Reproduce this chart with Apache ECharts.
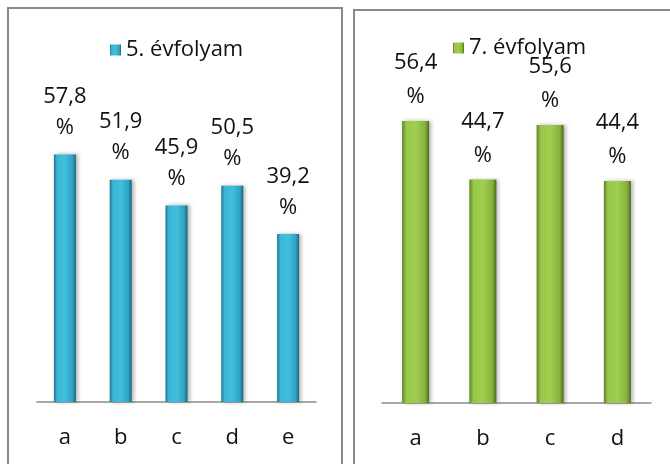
<!DOCTYPE html>
<html>
<head>
<meta charset="utf-8">
<script src="https://cdn.jsdelivr.net/npm/echarts@6/dist/echarts.min.js"></script>
<style>
  html, body { margin: 0; padding: 0; background: #fff; }
  #chart { width: 670px; height: 464px; }
</style>
</head>
<body>
<div id="chart"></div>
<script>
var cats5 = ['a', 'b', 'c', 'd', 'e'];
var vals5 = [57.8, 51.9, 45.9, 50.5, 39.2];
var cats7 = ['a', 'b', 'c', 'd'];
var vals7 = [56.4, 44.7, 55.6, 44.4];

var font = '"Open Sans", sans-serif';

function pct(p) {
    return String(p.value).replace('.', ',') + '\n%';
}

function barGrad(c) {
    return new echarts.graphic.LinearGradient(0, 0, 1, 0, [
        { offset: 0, color: c[0] },
        { offset: 0.15, color: c[1] },
        { offset: 0.5, color: c[2] },
        { offset: 0.85, color: c[3] },
        { offset: 1, color: c[4] }
    ]);
}

var blue = barGrad(['#1d7690', '#3bb6d6', '#42bedd', '#2ea2c1', '#176379']);
var green = barGrad(['#5f8127', '#98c849', '#a0cf50', '#86b23c', '#4d6a1e']);

var myChart = echarts.init(document.getElementById('chart'));
var option = {
    animation: false,
    graphic: [
        { type: 'rect', shape: { x: 8, y: 8, width: 334, height: 470 },
          style: { fill: 'none', stroke: '#8a8a8a', lineWidth: 2 } },
        { type: 'rect', shape: { x: 354, y: 10, width: 330, height: 470 },
          style: { fill: 'none', stroke: '#8a8a8a', lineWidth: 2 } }
    ],
    legend: [{
        data: ['5. évfolyam'],
        left: 105,
        top: 34,
        icon: 'rect',
        itemWidth: 11,
        itemHeight: 11,
        itemGap: 4,
        textStyle: { fontFamily: font, fontSize: 22, color: '#111' }
    }, {
        data: ['7. évfolyam'],
        left: 448,
        top: 32,
        icon: 'rect',
        itemWidth: 11,
        itemHeight: 11,
        itemGap: 4,
        textStyle: { fontFamily: font, fontSize: 22, color: '#111' }
    }],
    grid: [
        { left: 37, right: 354, top: 145, bottom: 62 },
        { left: 382, right: 19, top: 103, bottom: 61 }
    ],
    xAxis: [0, 1].map(function (i) {
        return {
            type: 'category',
            gridIndex: i,
            data: i === 0 ? cats5 : cats7,
            axisLine: { lineStyle: { color: '#8a8a8a', width: 1.5 } },
            axisTick: { show: false },
            axisLabel: { margin: 25, fontFamily: font, fontSize: 22, color: '#111' }
        };
    }),
    yAxis: [0, 1].map(function (i) {
        return {
            type: 'value',
            gridIndex: i,
            min: 0,
            max: 60,
            show: false,
            splitLine: { show: false }
        };
    }),
    series: [{
        name: '5. évfolyam',
        type: 'bar',
        xAxisIndex: 0,
        yAxisIndex: 0,
        data: vals5,
        barWidth: 22,
        itemStyle: {
            color: blue,
            shadowColor: 'rgba(0,0,0,0.3)',
            shadowBlur: 4,
            shadowOffsetX: 2
        },
        label: {
            show: true,
            position: 'top',
            distance: 11,
            formatter: pct,
            fontFamily: font,
            fontSize: 22,
            lineHeight: 31,
            color: '#111'
        }
    }, {
        name: '7. évfolyam',
        type: 'bar',
        xAxisIndex: 1,
        yAxisIndex: 1,
        data: vals7,
        barWidth: 27,
        itemStyle: {
            color: green,
            shadowColor: 'rgba(0,0,0,0.3)',
            shadowBlur: 4,
            shadowOffsetX: 2
        },
        label: {
            show: true,
            position: 'top',
            distance: 7,
            formatter: pct,
            fontFamily: font,
            fontSize: 22,
            lineHeight: 34,
            color: '#111'
        }
    }]
};
myChart.setOption(option);
</script>
</body>
</html>
